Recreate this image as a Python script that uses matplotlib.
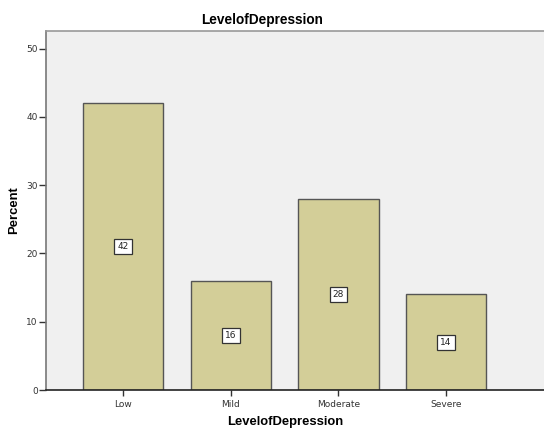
import matplotlib
matplotlib.use("Agg")
import matplotlib.pyplot as plt
import numpy as np

# Depression level distribution
levels = ["Low", "Mild", "Moderate", "Severe"]
percent = [42, 16, 28, 14]
yticks = [0, 10, 20, 30, 40, 50]

bar_color = "#d3ce98"
bg_color = "#f0f0f0"

fig = plt.figure(figsize=(5.44, 4.28), dpi=100, facecolor="white")
ax = fig.add_axes([46/544, 1-390/428, 1-46/544+0.01, (390-31)/428], facecolor=bg_color)

x = np.arange(len(levels))
ax.bar(x, percent, width=0.745, color=bar_color, edgecolor="#555555", linewidth=1.0, zorder=2)

# value labels in the middle of each bar
for xi, v in zip(x, percent):
    ax.text(xi, v/2, str(v), ha="center", va="center", fontsize=6.5, color="#222222", zorder=3,
            bbox=dict(boxstyle="square,pad=0.35", facecolor="white", edgecolor="#333333", linewidth=0.9))

ax.set_xlim(-0.715, 3.909 + 0.01*544/107.7)
ax.set_ylim(0, 52.6)
ax.set_xticks(x)
ax.set_xticklabels(levels, fontsize=6.5, color="#333333")
ax.set_yticks(yticks)
ax.set_yticklabels([str(t) for t in yticks], fontsize=6.5, color="#333333")
ax.tick_params(axis="y", length=5, width=1, color="#333333", pad=1)
ax.tick_params(axis="x", length=4, width=1, color="#333333", pad=3)

for side in ["top", "right"]:
    ax.spines[side].set_color("#999999")
    ax.spines[side].set_linewidth(1.2)
ax.spines["left"].set_color("#777777")
ax.spines["left"].set_linewidth(1.2)
ax.spines["bottom"].set_color("#222222")
ax.spines["bottom"].set_linewidth(1.2)

fig.text(262/544, 1-20/428, "LevelofDepression", ha="center", va="center",
         fontsize=9.8, fontweight="bold", family="Liberation Sans")
fig.text(285/544, 1-422/428, "LevelofDepression", ha="center", va="center",
         fontsize=9.4, fontweight="bold", family="Liberation Sans")
fig.text(14/544, 1-210/428, "Percent", ha="center", va="center", rotation=90,
         fontsize=9.4, fontweight="bold", family="Liberation Sans")

fig.savefig("out.png", dpi=100, facecolor="white")
